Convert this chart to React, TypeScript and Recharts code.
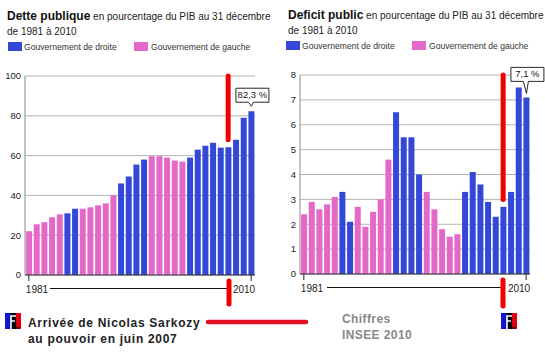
import React from 'react';
import { BarChart, Bar, XAxis, YAxis, CartesianGrid, Cell, LabelList, ReferenceLine } from 'recharts';

const years = [1981,1982,1983,1984,1985,1986,1987,1988,1989,1990,1991,1992,1993,1994,1995,1996,1997,1998,1999,2000,2001,2002,2003,2004,2005,2006,2007,2008,2009,2010];
const debtValues = [22,25.5,26.5,29,30.5,31,33.3,33.3,34,35,36,40,46,49.5,55.5,58,59.7,59.7,59,57.5,57,59,63,65,66.5,64,64.2,68,79,82.3];
const deficitValues = [2.4,2.9,2.6,2.8,3.1,3.3,2.1,2.7,1.9,2.5,3.0,4.6,6.5,5.5,5.5,4.0,3.3,2.6,1.8,1.5,1.6,3.3,4.1,3.6,2.9,2.3,2.7,3.3,7.5,7.1];
const leftYears = [1981,1982,1983,1984,1985,1988,1989,1990,1991,1992,1997,1998,1999,2000,2001];
const debtTicks = [0,20,40,60,80,100];
const deficitTicks = [0,1,2,3,4,5,6,7,8];
const xTicks = [1981,2010];
const BLUE = '#3448d8';
const PINK = '#e468c8';
const FONT = 'Arial, "Liberation Sans", sans-serif';

const toRows = (values: number[]) => years.map((year, i) => ({ year, value: values[i] }));

const XTick = (props: any) => {
  const { x, y, payload } = props;
  const first = payload.value === 1981;
  return (
    <g>
      <text x={first ? x - 3 : x + 4} y={y + 10} textAnchor={first ? 'start' : 'end'} fontSize={10} fontFamily={FONT} fill="#222">{payload.value}</text>
    </g>
  );
};

const Callout = (props: any) => {
  const { x, y, width, index, text, w, tipGap, tail } = props;
  if (index !== years.length - 1) return null;
  const cx = x + width / 2;
  const right = cx + w / 2 + 1;
  const left = right - w;
  const tip = y - tipGap;
  const bottom = tip - tail;
  const top = bottom - 14;
  return (
    <g>
      <path d={`M${left} ${top}H${right}V${bottom}H${cx + 2}L${cx} ${tip}L${cx - 3} ${bottom}H${left}Z`} fill="#fff" stroke="#111" strokeWidth={0.9} />
      <text x={(left + right) / 2} y={bottom - 4} textAnchor="middle" fontSize={9.5} fontFamily={FONT} fill="#222">{text}</text>
    </g>
  );
};

const Legend2 = ({ x, y, x2 }: { x: number; y: number; x2: number }) => (
  <>
    <div style={{ position: 'absolute', left: x, top: y, width: 14, height: 9, background: BLUE }} />
    <div style={{ position: 'absolute', left: x + 16, top: y - 1, fontSize: 8.6, lineHeight: '12px', color: '#333', whiteSpace: 'nowrap' }}>Gouvernement de droite</div>
    <div style={{ position: 'absolute', left: x2, top: y, width: 14, height: 9, background: PINK }} />
    <div style={{ position: 'absolute', left: x2 + 17, top: y - 1, fontSize: 8.6, lineHeight: '12px', color: '#333', whiteSpace: 'nowrap' }}>Gouvernement de gauche</div>
  </>
);

const Title = ({ x, y, bold }: { x: number; y: number; bold: string }) => (
  <div style={{ position: 'absolute', left: x, top: y, width: 275, lineHeight: '15px', fontSize: 10, color: '#222', whiteSpace: 'nowrap' }}>
    <span style={{ fontSize: 12, fontWeight: 700, color: '#111' }}>{bold}</span> en pourcentage du PIB au 31 décembre<br />de 1981 à 2010
  </div>
);

const Panel = ({ left, top, values, ticks, max, callout, calloutW, topFrom, tipGap, tail }: any) => (
  <div style={{ position: 'absolute', left, top: 0 }}>
    <BarChart width={275} height={356} data={toRows(values)} barCategoryGap="14%" margin={{ top, right: 20, left: 0, bottom: 356 - top - 199 - 30 }}>
      <CartesianGrid vertical={false} stroke="#b4b4b4" strokeWidth={1} />
      <XAxis dataKey="year" type="category" ticks={xTicks} interval={0} height={30} axisLine={{ stroke: '#333' }} tickLine={{ stroke: '#222' }} tickSize={6} tick={<XTick />} />
      <YAxis type="number" domain={[0, max]} ticks={ticks} width={25} axisLine={{ stroke: '#888' }} tickLine={false} tickSize={0} tickMargin={4} tick={{ fontSize: 9.5, fontFamily: FONT, fill: '#222' }} />
      <Bar dataKey="value" isAnimationActive={false}>
        {years.map((y) => <Cell key={y} fill={leftYears.includes(y) ? PINK : BLUE} />)}
        <LabelList dataKey="value" content={(p: any) => <Callout {...p} text={callout} w={calloutW} tipGap={tipGap} tail={tail} />} />
      </Bar>
      <ReferenceLine segment={[{ x: 2007, y: topFrom }, { x: 2007, y: max }]} stroke="#f00000" strokeWidth={5} strokeLinecap="round" ifOverflow="visible" />
    </BarChart>
  </div>
);

const Flag = ({ x, y }: { x: number; y: number }) => (
  <svg style={{ position: 'absolute', left: x, top: y }} width={16} height={16}>
    <rect width={16} height={16} fill="#000" />
    <rect width={6} height={16} fill="#1018d0" />
    <rect x={11} y={0} width={5} height={16} fill="#e00010" />
    <path d="M6 16V3H11M6 8H10" stroke="#fff" strokeWidth={1.6} fill="none" />
    <path d="M10.5 8V15H15" stroke="#000" strokeWidth={1.2} fill="none" />
  </svg>
);

export default function App() {
  return (
    <div style={{ position: 'absolute', left: 0, top: 0, width: 545, height: 356, background: '#fff', fontFamily: FONT, overflow: 'hidden' }}>
      <Title x={7} y={9} bold="Dette publique" />
      <Title x={288} y={8} bold="Deficit public" />
      <Legend2 x={8} y={42} x2={134} />
      <Legend2 x={286} y={41} x2={412} />
      <Panel left={0} top={76} values={debtValues} ticks={debtTicks} max={100} callout="82,3 %" calloutW={33} topFrom={68} tipGap={5} tail={4} />
      <Panel left={275} top={75} values={deficitValues} ticks={deficitTicks} max={8} callout="7,1 %" calloutW={33} topFrom={3} tipGap={4} tail={12} />
      <svg style={{ position: 'absolute', left: 0, top: 0 }} width={545} height={356}>
        <line x1={50} x2={228} y1={288.5} y2={288.5} stroke="#111" />
        <line x1={327} x2={503} y1={287.5} y2={287.5} stroke="#111" />
        <line x1={229} x2={229} y1={281} y2={304} stroke="#f00000" strokeWidth={5} strokeLinecap="round" />
        <line x1={503} x2={503} y1={280} y2={306} stroke="#f00000" strokeWidth={5} strokeLinecap="round" />
        <line x1={208} x2={306} y1={322} y2={322} stroke="#e01020" strokeWidth={4.5} strokeLinecap="round" />
      </svg>
      <Flag x={5} y={313} />
      <Flag x={501} y={313} />
      <div style={{ position: 'absolute', left: 28, top: 315, fontSize: 12, fontWeight: 700, lineHeight: '16px', letterSpacing: 0.7, color: '#222', whiteSpace: 'nowrap' }}>Arrivée de Nicolas Sarkozy<br />au pouvoir en juin 2007</div>
      <div style={{ position: 'absolute', left: 342, top: 311, fontSize: 12, fontWeight: 700, lineHeight: '16px', letterSpacing: 0.4, color: '#888', whiteSpace: 'nowrap' }}>Chiffres<br />INSEE 2010</div>
    </div>
  );
}
